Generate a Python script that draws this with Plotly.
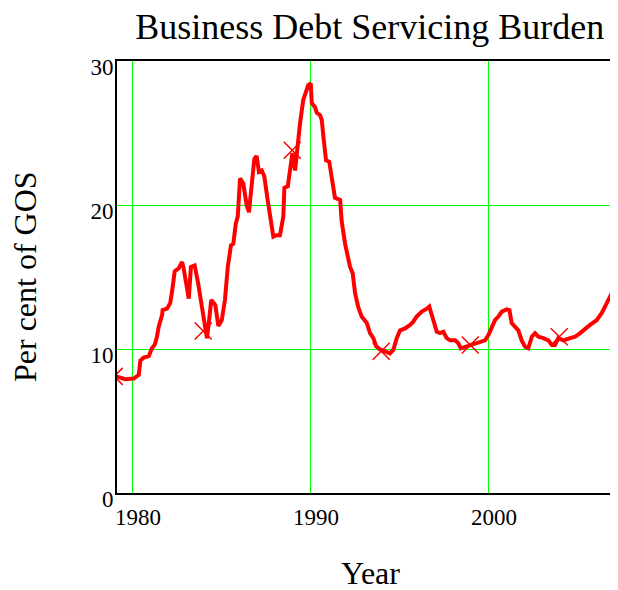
import plotly.graph_objects as go

# Debt servicing burden, per cent of gross operating surplus
years = [
    1979.0, 1979.25, 1979.62, 1980.1, 1980.38, 1980.47, 1980.66, 1980.94, 1981.12, 1981.28,
    1981.4, 1981.5, 1981.69, 1981.72, 1981.97, 1982.15, 1982.25, 1982.4, 1982.62, 1982.81,
    1982.9, 1983.03, 1983.19, 1983.31, 1983.52, 1983.71, 1983.93, 1984.08, 1984.21, 1984.34,
    1984.45, 1984.68, 1984.85, 1985.04, 1985.22, 1985.38, 1985.56, 1985.69, 1985.83, 1985.94,
    1986.07, 1986.25, 1986.44, 1986.57, 1986.72, 1986.87, 1987.0, 1987.13, 1987.29, 1987.43,
    1987.62, 1987.85, 1987.94, 1988.13, 1988.31, 1988.5, 1988.56, 1988.75, 1988.88, 1989.01,
    1989.16, 1989.25, 1989.44, 1989.62, 1989.78, 1989.9, 1990.04, 1990.1, 1990.28, 1990.38,
    1990.56, 1990.66, 1990.75, 1990.9, 1991.08, 1991.22, 1991.4, 1991.69, 1991.78, 1991.97,
    1992.1, 1992.25, 1992.4, 1992.53, 1992.71, 1992.9, 1993.19, 1993.37, 1993.56, 1993.71,
    1993.93, 1994.21, 1994.49, 1994.68, 1994.87, 1995.06, 1995.34, 1995.62, 1995.8, 1995.99,
    1996.28, 1996.56, 1996.7, 1996.84, 1996.97, 1997.12, 1997.3, 1997.49, 1997.68, 1997.87,
    1998.15, 1998.33, 1998.47, 1998.71, 1998.99, 1999.27, 1999.55, 1999.83, 2000.02, 2000.21,
    2000.39, 2000.58, 2000.77, 2001.05, 2001.2, 2001.33, 2001.52, 2001.7, 2001.89, 2002.08,
    2002.26, 2002.46, 2002.64, 2002.83, 2003.11, 2003.39, 2003.58, 2003.76, 2003.95, 2004.23,
    2004.61, 2004.89, 2005.17, 2005.45, 2005.73, 2006.1, 2006.39, 2006.57, 2006.81, 2007.04,
    2007.29, 2007.5,
]
burden = [
    8.1, 8.05, 7.9, 7.95, 8.2, 9.2, 9.4, 9.5, 10.05, 10.3,
    10.85, 11.55, 12.35, 12.7, 12.8, 13.2, 14.0, 15.4, 15.6, 16.05,
    15.6, 14.8, 13.5, 15.7, 15.8, 14.6, 12.9, 12.0, 10.75, 12.1,
    13.4, 13.05, 11.6, 12.0, 13.4, 15.7, 17.2, 17.3, 18.7, 19.2,
    21.85, 21.5, 20.0, 19.5, 21.5, 23.2, 23.4, 22.3, 22.4, 22.0,
    20.35, 18.15, 17.8, 17.9, 17.9, 19.2, 21.2, 21.3, 22.4, 23.6,
    22.4, 23.6, 25.7, 27.3, 27.9, 28.33, 28.45, 27.06, 26.8, 26.4,
    26.25, 25.9, 24.75, 23.1, 23.0, 22.0, 20.5, 20.35, 18.85, 17.3,
    16.65, 15.7, 15.25, 13.87, 12.9, 12.25, 11.8, 11.1, 10.75, 10.2,
    9.97, 9.8, 9.7, 9.93, 10.75, 11.3, 11.43, 11.67, 11.9, 12.25,
    12.6, 12.8, 12.95, 12.36, 11.8, 11.2, 11.1, 11.2, 10.75, 10.6,
    10.6, 10.4, 10.05, 10.16, 10.28, 10.4, 10.5, 10.6, 10.97, 11.43,
    12.0, 12.25, 12.6, 12.75, 12.7, 11.8, 11.55, 11.3, 10.6, 10.16,
    10.05, 10.85, 11.1, 10.85, 10.75, 10.6, 10.28, 10.28, 10.75, 10.6,
    10.75, 10.85, 11.1, 11.43, 11.67, 12.0, 12.5, 12.95, 13.6, 14.1,
    14.44, 14.7,
]

# every fifth year gets a cross
marker_years = [1979, 1984, 1989, 1994, 1999, 2004]
marker_vals = [8.1, 11.25, 23.8, 9.85, 10.28, 10.85]

x_ticks = [1980, 1990, 2000]
y_ticks = [0, 10, 20, 30]

serif = "Liberation Serif, Times New Roman, serif"
green = "#00ff00"

fig = go.Figure()
fig.add_trace(go.Scatter(
    x=years, y=burden, mode="lines",
    line=dict(color="#ff0000", width=4),
    showlegend=False, hoverinfo="skip",
))
fig.add_trace(go.Scatter(
    x=marker_years, y=marker_vals, mode="markers",
    marker=dict(symbol="x-thin", size=17, line=dict(color="#ff0000", width=1.5)),
    showlegend=False, hoverinfo="skip",
))

# page body has an 8px margin, so the figure is a bit smaller than the window
fig.update_layout(
    width=610, height=582,
    margin=dict(l=109, r=0, t=53, b=97),
    paper_bgcolor="white", plot_bgcolor="white",
    font=dict(family=serif, color="black"),
    title=dict(
        text="Business Debt Servicing Burden",
        font=dict(family=serif, size=36, color="black"),
        x=0.593, xref="container", xanchor="center",
        y=0.968, yref="container", yanchor="middle",
    ),
    xaxis=dict(
        range=[1979.157, 2007.3],
        tickvals=x_ticks, ticks="",
        tickfont=dict(family=serif, size=23, color="black"),
        ticklabelshift=6, ticklabelstandoff=2,
        showgrid=True, gridcolor=green, gridwidth=1,
        showline=True, linecolor="black", linewidth=2, mirror=True,
        zeroline=False,
    ),
    yaxis=dict(
        range=[0, 30],
        tickvals=y_ticks, ticks="",
        tickfont=dict(family=serif, size=23, color="black"),
        ticklabelshift=6, ticklabelstandoff=-3,
        showgrid=True, gridcolor=green, gridwidth=1,
        showline=True, linecolor="black", linewidth=2, mirror=False,
        zeroline=False,
    ),
    annotations=[
        dict(text="Year", x=0.505, y=-0.185, xref="paper", yref="paper",
             xanchor="center", yanchor="middle", showarrow=False,
             font=dict(family=serif, size=32, color="black")),
        dict(text="Per cent of GOS", x=-0.1836, y=0.5, xref="paper", yref="paper",
             xanchor="center", yanchor="middle", showarrow=False, textangle=-90,
             font=dict(family=serif, size=32, color="black")),
    ],
)

fig.write_html("out.html")
